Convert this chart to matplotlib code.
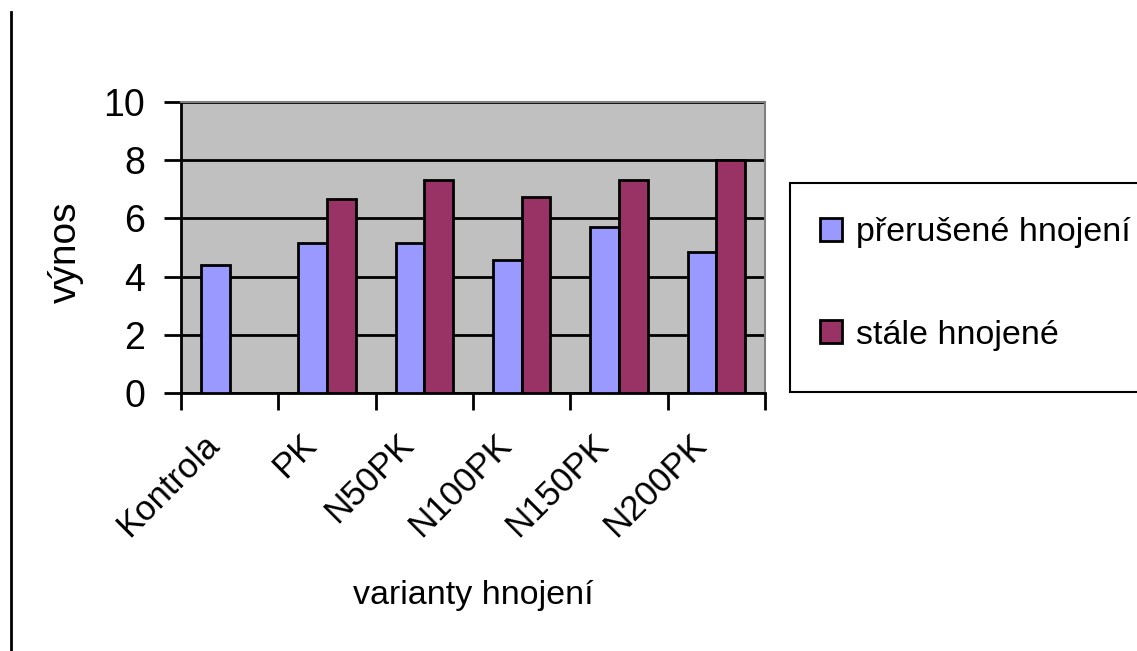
import matplotlib
matplotlib.use("Agg")
import matplotlib.pyplot as plt
from matplotlib.patches import Rectangle, Patch
from matplotlib.lines import Line2D
import numpy as np

categories = ["Kontrola", "PK", "N50PK", "N100PK", "N150PK", "N200PK"]
preruseno = [4.39, 5.14, 5.14, 4.58, 5.72, 4.85]
stale = [0.0, 6.66, 7.33, 6.75, 7.33, 8.0]
series_names = ["přerušené hnojení", "stále hnojené"]
yticks = [0, 2, 4, 6, 8, 10]

plt.rcParams['font.family'] = ['Liberation Sans', 'DejaVu Sans']

W, H = 1137, 651
fig = plt.figure(figsize=(W / 100, H / 100), dpi=100)
ax = fig.add_axes([181 / W, 1 - 393 / H, (765 - 181) / W, (393 - 102) / H])
ax.set_facecolor("#C0C0C0")

x = np.arange(len(categories)) + 0.5
bw = 0.295
ax.bar(x - bw / 2, preruseno, bw, color="#9999FF", edgecolor="black", linewidth=2, zorder=3)
stale_plot = [v if v > 0 else np.nan for v in stale]
ax.bar(x + bw / 2, stale_plot, bw, color="#993366", edgecolor="black", linewidth=2, zorder=3)

ax.set_xlim(0, len(categories))
ax.set_ylim(0, 10)
ax.set_yticks(yticks)
ax.set_yticklabels([str(v) for v in yticks], fontsize=27)
ax.yaxis.grid(True, color="black", linewidth=2, zorder=1)
ax.set_axisbelow(True)

ax.set_xticks(np.arange(len(categories) + 1))
ax.set_xticklabels([])
ax.tick_params(axis="x", which="major", length=12, width=2, direction="out")
ax.tick_params(axis="y", length=12, width=2, direction="out", pad=14)

# category labels (rotated, shifted slightly left of the category centre)
for xi, lab in zip(x, categories):
    ax.text(xi - 0.28, (393 - 428) / 291, lab, transform=ax.get_xaxis_transform(),
            rotation=45, ha="right", va="top", rotation_mode="anchor", fontsize=25)

for s in ["left", "bottom"]:
    ax.spines[s].set_linewidth(2)
    ax.spines[s].set_color("black")
for s in ["top", "right"]:
    ax.spines[s].set_linewidth(1.5)
    ax.spines[s].set_color("#808080")

ax.set_ylabel("výnos", fontsize=28)
ax.yaxis.label.set_va("center")
ax.yaxis.set_label_coords((66 - 181) / 584, (393 - 252) / 291)
ax.set_xlabel("varianty hnojení", fontsize=24.5)
ax.xaxis.label.set_va("center")
ax.xaxis.set_label_coords(0.5, (393 - 595) / 291)

# outer left border line
fig.add_artist(Line2D([11 / W, 11 / W], [0, 1 - 12 / H], color="black", linewidth=2))

# legend box
fig.add_artist(Rectangle((790 / W, 1 - 392 / H), 400 / W, (392 - 183) / H,
                         facecolor="white", edgecolor="black", linewidth=1.5,
                         transform=fig.transFigure))
handles = [Patch(facecolor="#9999FF", edgecolor="black", linewidth=2),
           Patch(facecolor="#993366", edgecolor="black", linewidth=2)]
leg = fig.legend(handles, series_names, loc="center left",
                 bbox_to_anchor=(820 / W, 1 - 284 / H), frameon=False,
                 fontsize=24.5, handlelength=0.65, handleheight=0.65,
                 handletextpad=0.4, labelspacing=2.1, borderpad=0, borderaxespad=0)

fig.savefig("out.png", dpi=100, facecolor="white")
